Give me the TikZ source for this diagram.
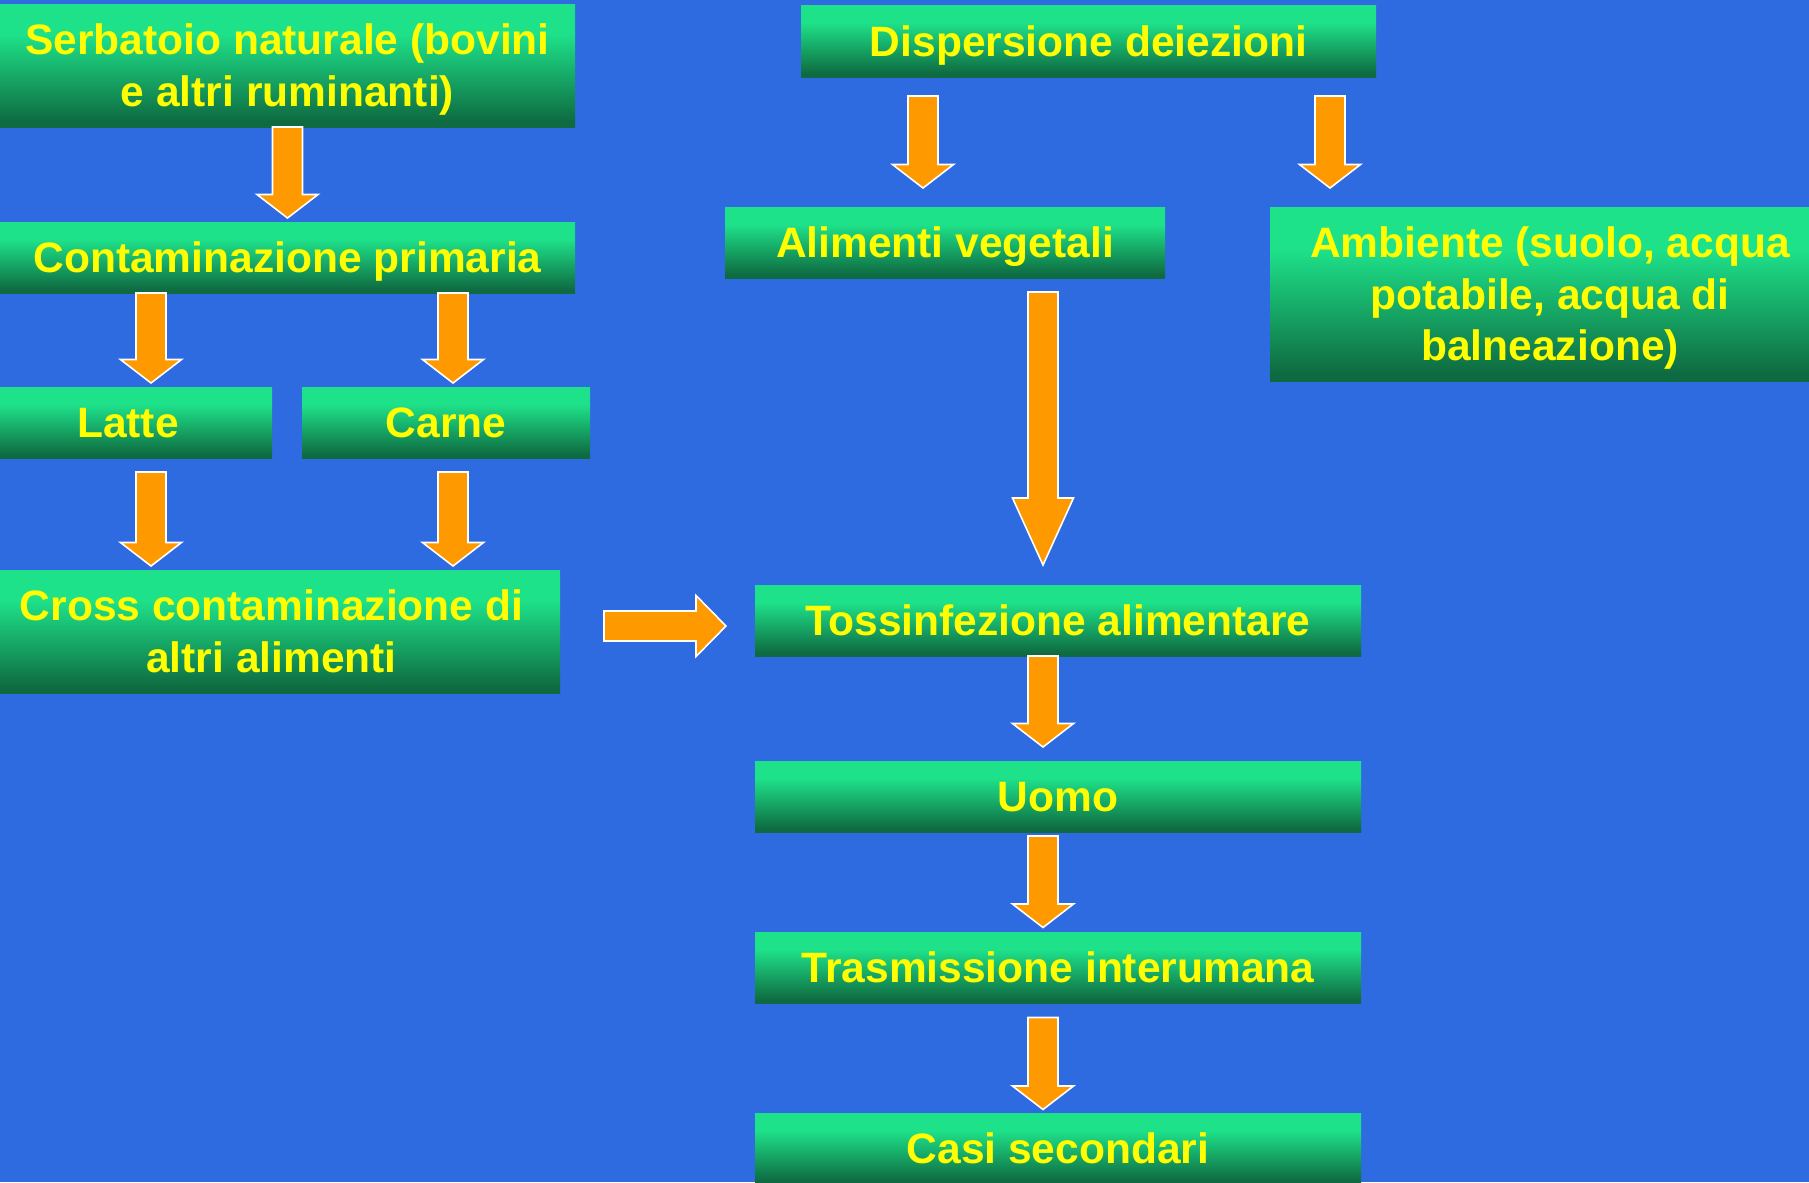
\documentclass[tikz,border=0pt]{standalone}
\usepackage{fontspec}
\setmainfont{Liberation Sans}
\usetikzlibrary{positioning,calc}

\definecolor{bgblue}{RGB}{47,107,224}
\definecolor{boxlight}{RGB}{30,226,138}
\definecolor{boxdark}{RGB}{14,106,64}
\definecolor{arrorange}{RGB}{255,153,0}
\definecolor{txtyellow}{RGB}{255,255,0}

\pgfdeclareverticalshading{boxgrad}{100bp}{color(0bp)=(boxdark); color(27bp)=(boxdark); color(63bp)=(boxlight); color(100bp)=(boxlight)}

% block arrow from #2 to #3, head length #1
\newcommand\flowarrow[3][2.35mm]{%
  \path #2 coordinate (fa-s) #3 coordinate (fa-e);
  \path ($(fa-e)!#1!(fa-s)$) coordinate (fa-h);
  \draw[blockar] ($(fa-s)!1.5mm!90:(fa-e)$) -- ($(fa-h)!1.5mm!90:(fa-e)$)
    -- ($(fa-h)!3.05mm!90:(fa-e)$) -- (fa-e) -- ($(fa-h)!3.05mm!-90:(fa-e)$)
    -- ($(fa-h)!1.5mm!-90:(fa-e)$) -- ($(fa-s)!1.5mm!-90:(fa-e)$) -- cycle;}

\begin{document}
\begin{tikzpicture}[
  box/.style    ={shade, shading=boxgrad, inner sep=0pt, outer sep=0pt, align=center,
                  text=txtyellow, font=\bfseries\fontsize{12.1}{14.75}\selectfont,
                  text height=8.6pt, text depth=0pt, minimum height=7.1mm},
  twoline/.style={text height=23.35pt, minimum height=12.3mm},
  blockar/.style={fill=arrorange, draw=white, line width=0.45pt, line join=miter},
]
\useasboundingbox (0,0) rectangle (18.09,-11.82);
\fill[bgblue] (0,0) rectangle (18.09,-11.82);

% --- animal branch ---
\node[box, twoline, minimum width=57.5mm, anchor=north west] (serb) at (0,-0.04)
  {Serbatoio naturale (bovini\\e altri ruminanti)};
\node[box, minimum width=57.5mm, below=9.5mm of serb] (contam) {Contaminazione primaria};
\node[box, minimum width=28.8mm, below right=9.4mm and -1.6mm of contam.south west] (latte) {Latte};
\node[box, minimum width=28.8mm, right=3mm of latte] (carne) {Carne};
\node[box, twoline, minimum width=57.7mm, anchor=north west] (cross) at (-0.17,-5.70)
  {Cross contaminazione di\\altri alimenti};

% --- faecal branch ---
\node[box, minimum width=57.5mm, minimum height=7.2mm, anchor=north west] (disp) at (8.01,-0.05)
  {Dispersione deiezioni};
\node[box, minimum width=44mm, anchor=north west] (veg) at (7.25,-2.07) {Alimenti vegetali};
\node[box, minimum width=56mm, minimum height=17.4mm, text height=38.1pt, anchor=north west] (amb)
  at (12.70,-2.07) {Ambiente (suolo, acqua\\potabile, acqua di\\balneazione)};

% --- human chain ---
\node[box, minimum width=60.6mm, anchor=north west] (toss) at (7.55,-5.85) {Tossinfezione alimentare};
\node[box, minimum width=60.6mm, below=10.5mm of toss] (uomo) {Uomo};
\node[box, minimum width=60.6mm, below=10mm of uomo] (trasm) {Trasmissione interumana};
\node[box, minimum width=60.6mm, below=11mm of trasm] (casi) {Casi secondari};

% --- arrows ---
\flowarrow{(serb.south)}{([yshift=0.4mm]contam.north)}
\flowarrow{([xshift=-13.65mm]contam.south)}{([xshift=2.3mm,yshift=0.4mm]latte.north)}
\flowarrow{([xshift=16.55mm]contam.south)}{([xshift=0.7mm,yshift=0.4mm]carne.north)}
\flowarrow{([xshift=2.3mm,yshift=-1.4mm]latte.south)}{([xshift=-12.05mm,yshift=0.4mm]cross.north)}
\flowarrow{([xshift=0.7mm,yshift=-1.4mm]carne.south)}{([xshift=18.15mm,yshift=0.4mm]cross.north)}
\flowarrow[3mm]{([xshift=4.4mm,yshift=0.55mm]cross.east)}{([xshift=-2.9mm,yshift=-0.55mm]toss.west)}
\flowarrow{([xshift=-16.55mm,yshift=-1.9mm]disp.south)}{([xshift=-2.2mm,yshift=1.9mm]veg.north)}
\flowarrow{([xshift=24.15mm,yshift=-1.9mm]disp.south)}{([xshift=-22mm,yshift=1.9mm]amb.north)}
\flowarrow[6.7mm]{([xshift=9.8mm,yshift=-1.4mm]veg.south)}{([xshift=-1.5mm,yshift=2mm]toss.north)}
\flowarrow{([xshift=-1.5mm]toss.south)}{([xshift=-1.5mm,yshift=1.4mm]uomo.north)}
\flowarrow{([xshift=-1.5mm,yshift=-0.4mm]uomo.south)}{([xshift=-1.5mm,yshift=0.45mm]trasm.north)}
\flowarrow{([xshift=-1.5mm,yshift=-1.45mm]trasm.south)}{([xshift=-1.5mm,yshift=0.35mm]casi.north)}
\end{tikzpicture}
\end{document}
